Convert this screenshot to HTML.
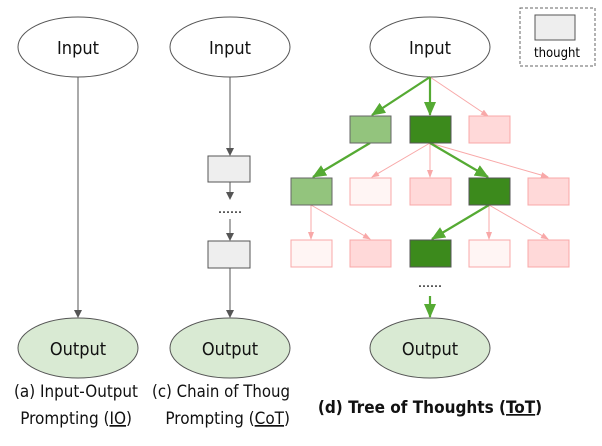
<!DOCTYPE html>
<html><head><style>body{margin:0;background:#fff}svg{display:block}text{font-family:"DejaVu Sans Condensed","Liberation Sans",sans-serif}</style></head><body>
<svg width="602" height="446" viewBox="0 0 602 446" xmlns="http://www.w3.org/2000/svg">
<defs>
<marker id="g" markerWidth="8" markerHeight="8" refX="7" refY="4" orient="auto" markerUnits="userSpaceOnUse"><path d="M0,0 L8,4 L0,8z" fill="#555"/></marker>
<marker id="p" markerWidth="8" markerHeight="8" refX="7" refY="4" orient="auto" markerUnits="userSpaceOnUse"><path d="M0,1 L8,4 L0,7z" fill="#f8a8a8"/></marker>
<marker id="G" markerWidth="14" markerHeight="12" refX="13" refY="6" orient="auto" markerUnits="userSpaceOnUse"><path d="M0,0 L14,6 L0,12z" fill="#55aa33"/></marker>
</defs>
<g stroke="#555" fill="none" stroke-width="1">
<line x1="78" y1="77" x2="78" y2="317" marker-end="url(#g)"/>
<line x1="230" y1="77" x2="230" y2="155" marker-end="url(#g)"/>
<line x1="230" y1="182" x2="230" y2="199" marker-end="url(#g)"/>
<line x1="230" y1="219" x2="230" y2="240" marker-end="url(#g)"/>
<line x1="230" y1="268" x2="230" y2="317" marker-end="url(#g)"/>
</g>
<g stroke="#555" fill="#fff"><ellipse cx="78" cy="47" rx="60" ry="30"/><ellipse cx="230" cy="47" rx="60" ry="30"/><ellipse cx="430" cy="47" rx="60" ry="30"/></g>
<g stroke="#555" fill="#d9ead3"><ellipse cx="78" cy="348" rx="60" ry="30"/><ellipse cx="230" cy="348" rx="60" ry="30"/><ellipse cx="430" cy="348" rx="60" ry="30"/></g>
<g font-size="18" text-anchor="middle" fill="#111">
<text x="78" y="54">Input</text><text x="230" y="54">Input</text><text x="430" y="54">Input</text>
<text x="78" y="355">Output</text><text x="230" y="355">Output</text><text x="430" y="355">Output</text>
</g>
<g stroke="#555" fill="#eee"><rect x="208" y="156" width="42" height="26"/><rect x="208" y="241" width="42" height="27"/></g>
<text x="230" y="213" font-size="14" text-anchor="middle">......</text>
<g stroke="#f8a8a8" stroke-width="1" fill="none">
<line x1="430" y1="77" x2="488" y2="116" marker-end="url(#p)"/>
<line x1="430" y1="143" x2="372" y2="177" marker-end="url(#p)"/>
<line x1="430" y1="143" x2="430" y2="177" marker-end="url(#p)"/>
<line x1="430" y1="143" x2="548" y2="177" marker-end="url(#p)"/>
<line x1="311" y1="205" x2="311" y2="239" marker-end="url(#p)"/>
<line x1="311" y1="205" x2="370" y2="239" marker-end="url(#p)"/>
<line x1="489" y1="205" x2="489" y2="239" marker-end="url(#p)"/>
<line x1="489" y1="205" x2="548" y2="239" marker-end="url(#p)"/>
</g>
<g stroke="#55aa33" stroke-width="2.2" fill="none">
<line x1="430" y1="77" x2="372" y2="115" marker-end="url(#G)"/>
<line x1="430" y1="77" x2="430" y2="115" marker-end="url(#G)"/>
<line x1="370" y1="143" x2="313" y2="177" marker-end="url(#G)"/>
<line x1="430" y1="143" x2="488" y2="177" marker-end="url(#G)"/>
<line x1="489" y1="205" x2="432" y2="239" marker-end="url(#G)"/>
<line x1="430" y1="296" x2="430" y2="317" marker-end="url(#G)"/>
</g>
<g stroke-width="1">
<rect x="350" y="116" width="41" height="27" fill="#93c47d" stroke="#666"/>
<rect x="410" y="116" width="41" height="27" fill="#3c8a1c" stroke="#555"/>
<rect x="469" y="116" width="41" height="27" fill="#ffd9d9" stroke="#f8a8a8"/>
<rect x="291" y="178" width="41" height="27" fill="#93c47d" stroke="#666"/>
<rect x="350" y="178" width="41" height="27" fill="#fff5f4" stroke="#f8a8a8"/>
<rect x="410" y="178" width="41" height="27" fill="#ffd9d9" stroke="#f8a8a8"/>
<rect x="469" y="178" width="41" height="27" fill="#3c8a1c" stroke="#555"/>
<rect x="528" y="178" width="41" height="27" fill="#ffd9d9" stroke="#f8a8a8"/>
<rect x="291" y="240" width="41" height="27" fill="#fff5f4" stroke="#f8a8a8"/>
<rect x="350" y="240" width="41" height="27" fill="#ffd9d9" stroke="#f8a8a8"/>
<rect x="410" y="240" width="41" height="27" fill="#3c8a1c" stroke="#555"/>
<rect x="469" y="240" width="41" height="27" fill="#fff5f4" stroke="#f8a8a8"/>
<rect x="528" y="240" width="41" height="27" fill="#ffd9d9" stroke="#f8a8a8"/>
</g>
<text x="430" y="287" font-size="14" text-anchor="middle">......</text>
<rect x="520" y="8" width="75" height="58" fill="none" stroke="#666" stroke-dasharray="3,2"/>
<rect x="535" y="15" width="40" height="25" fill="#eee" stroke="#555"/>
<text x="557" y="57" font-size="13" text-anchor="middle">thought</text>
<g font-size="17" fill="#111">
<text x="14" y="397" textLength="124" lengthAdjust="spacingAndGlyphs">(a) Input-Output</text>
<text x="132" y="424" text-anchor="end">Prompting (<tspan text-decoration="underline">IO</tspan>)</text>
<text x="152" y="397" textLength="138" lengthAdjust="spacingAndGlyphs">(c) Chain of Thoug</text>
<text x="290" y="424" text-anchor="end">Prompting (<tspan text-decoration="underline">CoT</tspan>)</text>
<text x="430" y="413" text-anchor="middle" font-weight="bold">(d) Tree of Thoughts (<tspan text-decoration="underline">ToT</tspan>)</text>
</g>
</svg>
</body></html>
